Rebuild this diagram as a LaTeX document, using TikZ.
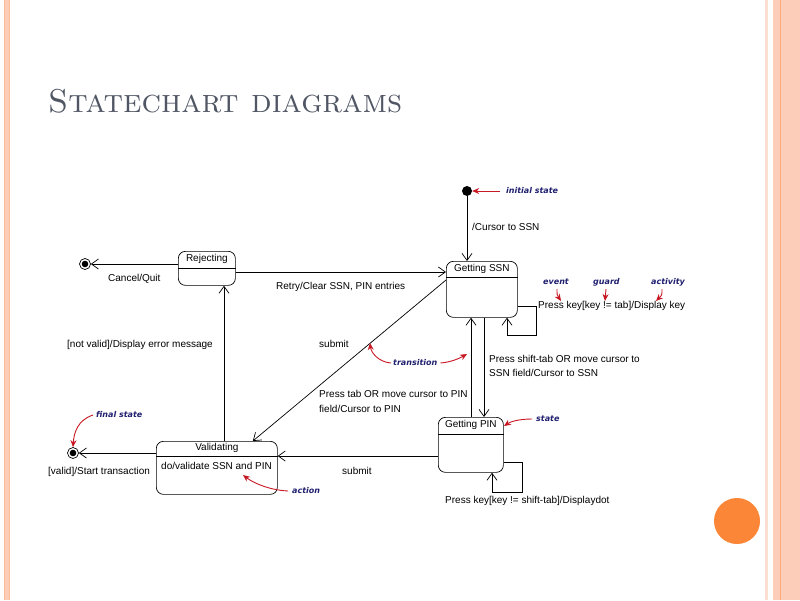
\documentclass[tikz,border=0pt]{standalone}
\usepackage{fontspec}
\newfontfamily\diagfont{Liberation Sans}
\newfontfamily\notefont{DejaVu Sans}
\usetikzlibrary{arrows.meta,positioning,calc}
\definecolor{slidepeach}{RGB}{252,206,186}
\definecolor{slideorange}{RGB}{252,134,56}
\definecolor{titlegray}{RGB}{80,86,100}
\definecolor{notenavy}{RGB}{32,32,112}
\definecolor{notered}{RGB}{200,24,36}
\tikzset{
    statebox/.style={draw, rounded corners=7pt, anchor=north west, inner sep=0pt, line width=0.7pt},
    statename/.style={font=\diagfont\fontsize{10}{12}\selectfont, inner sep=0pt},
    tlabel/.style={font=\diagfont\fontsize{10}{14.5}\selectfont, inner sep=0pt, anchor=west, align=left},
    trans/.style={draw, line width=0.7pt, -{Straight Barb[length=7pt,width=10pt,line width=0.7pt]}},
    initstate/.style={circle, fill=black, minimum size=10pt, inner sep=0pt},
    finalstate/.style={circle, draw, line width=0.7pt, minimum size=11pt, inner sep=0pt,
        path picture={\fill (path picture bounding box.center) circle (3.3pt);}},
    note/.style={text=notenavy, font=\notefont\bfseries\itshape\fontsize{8}{10}\selectfont, inner sep=0pt, anchor=west},
    pointer/.style={draw=notered, line width=0.9pt, -{Stealth[length=7pt,width=6pt]}}
}
\begin{document}
\begin{tikzpicture}[x=1pt,y=-1pt]
            \useasboundingbox (0,0) rectangle (800,600);
            \fill[white] (0,0) rectangle (800,600);
            \fill[slidepeach] (4,0) rectangle (9,600);
            \draw[slidepeach!80!orange, line width=0.4pt] (4,0) -- (4,600) (9,0) -- (9,600);
            \fill[slidepeach!70] (765,0) rectangle (768,600);
            \fill[slidepeach] (773,0) rectangle (800,600);
            \draw[slideorange!70, line width=0.8pt] (780,0) -- (780,600);
            \fill[slideorange] (737,521) circle (23pt);

            \node[anchor=base west, inner sep=0pt, text=titlegray, font=\fontsize{33}{40}\selectfont] (title) at (48,112) {\textsc{Statechart diagrams}};

            \node[statebox, minimum width=71pt, minimum height=56pt] (ssn) at (446,261) {};
            \draw[line width=0.7pt] ([yshift=-16pt]ssn.north west) -- ([yshift=-16pt]ssn.north east);
            \node[statename] (ssnname) at ([yshift=-8pt]ssn.north) {Getting SSN};

            \node[statebox, minimum width=57pt, minimum height=34pt] (rej) at (178,251) {};
            \draw[line width=0.7pt] ([yshift=-17pt]rej.north west) -- ([yshift=-17pt]rej.north east);
            \node[statename] (rejname) at ([yshift=-8pt]rej.north) {Rejecting};

            \node[statebox, minimum width=121pt, minimum height=53pt] (val) at (156,441) {};
            \draw[line width=0.7pt] ([yshift=-15pt]val.north west) -- ([yshift=-15pt]val.north east);
            \node[statename] (valname) at ([yshift=-7pt]val.north) {Validating};
            \node[tlabel] (valdo) at (161,466) {do/validate SSN and PIN};

            \node[statebox, minimum width=65pt, minimum height=55pt] (pin) at (438,417) {};
            \draw[line width=0.7pt] ([yshift=-17pt]pin.north west) -- ([yshift=-17pt]pin.north east);
            \node[statename] (pinname) at ([yshift=-8pt]pin.north) {Getting PIN};

            \node[initstate] (init) at (467,191) {};
            \node[finalstate] (fin1) at (85,264) {};
            \node[finalstate] (fin2) at (73,453) {};

            \draw[trans] (init) -- (init |- ssn.north);
            \draw[trans] (rej.west |- fin1) -- (fin1);
            \draw[trans] (rej.east |- 0,272) -- (ssn.west |- 0,272);
            \draw[trans] (ssn.west |- 0,280) -- ([xshift=36pt]val.north);
            \draw[trans] (val.north -| 224,0) -- (rej.south -| 224,0);
            \draw[trans] (val.west |- fin2) -- (fin2);
            \draw[trans] (pin.west |- 0,456) -- (val.east |- 0,456);
            \draw[trans] (pin.north -| 471,0) -- (ssn.south -| 471,0);
            \draw[trans] (ssn.south -| 484,0) -- (pin.north -| 484,0);
            \draw[trans] (ssn.east |- 0,306) -- ++(19,0) -- ++(0,29) -| (ssn.south -| 507,0);
            \draw[trans] (pin.east |- 0,462) -- ++(19,0) -- ++(0,30) -| (pin.south -| 492,0);

            \node[tlabel] (cursorssn) at (472,227) {/Cursor to SSN};
            \node[tlabel] (cancel) at (108,279) {Cancel/Quit};
            \node[tlabel] (retry) at (276,287) {Retry/Clear SSN, PIN entries};
            \node[tlabel] (notvalid) at (67,345) {[not valid]/Display error message};
            \node[tlabel] (submitssn) at (319,344) {submit};
            \node[tlabel] (presstab) at (319,401.5) {Press tab OR move cursor to PIN\\field/Cursor to PIN};
            \node[tlabel] (pressshift) at (489,366) {Press shift-tab OR move cursor to\\SSN field/Cursor to SSN};
            \node[tlabel] (submitpin) at (342,471) {submit};
            \node[tlabel] (valid) at (48,472) {[valid]/Start transaction};
            \node[tlabel] (keyssn) at (538,306) {Press key[key != tab]/Display key};
            \node[tlabel] (keypin) at (445,501) {Press key[key != shift-tab]/Displaydot};

            \node[note] (initnote) at (506,191) {initial state};
            \node[note] (eventnote) at (543,282) {event};
            \node[note] (guardnote) at (593,282) {guard};
            \node[note] (actnote) at (651,282) {activity};
            \node[note] (transnote) at (393,363) {transition};
            \node[note] (statenote) at (536,419) {state};
            \node[note] (finalnote) at (96,415) {final state};
            \node[note] (actionnote) at (292,491) {action};

            \coordinate (eventpt) at (561,301);
            \coordinate (guardpt) at (605,301);
            \coordinate (actpt) at (656,301);
            \coordinate (translinept) at (370,343);
            \coordinate (transvertpt) at (467,354);
            \coordinate (statept) at (504,426);
            \coordinate (actionpt) at (243,475);

            \draw[pointer] ([xshift=-6pt]initnote.west) -- (init.east);
            \draw[pointer] (557,289) .. controls (557,295) .. (eventpt);
            \draw[pointer] (606,289) -- (guardpt);
            \draw[pointer] (662,289) .. controls (662,295) .. (actpt);
            \draw[pointer] ([xshift=-2pt]transnote.west) .. controls (378,362) and (371,352) .. (translinept);
            \draw[pointer] ([xshift=3pt]transnote.east) .. controls (452,362) and (460,358) .. (transvertpt);
            \draw[pointer] ([xshift=-4pt]statenote.west) .. controls (518,419) and (510,422) .. (statept);
            \draw[pointer] ([xshift=-3pt]finalnote.west) .. controls (78,420) and (74,432) .. (fin2.north);
            \draw[pointer] ([xshift=-4pt]actionnote.west) .. controls (268,490) and (252,482) .. (actionpt);
        \end{tikzpicture}
\end{document}
